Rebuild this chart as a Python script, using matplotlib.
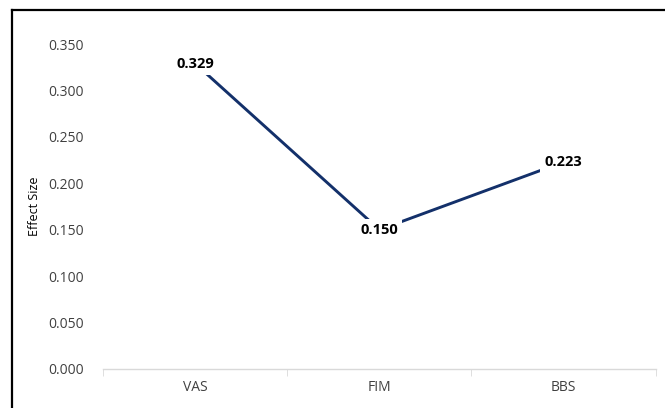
import matplotlib.pyplot as plt
from matplotlib.lines import Line2D

# dati
categories = ["VAS", "FIM", "BBS"]
effect_sizes = [0.329, 0.150, 0.223]
y_ticks = [0.0, 0.05, 0.10, 0.15, 0.20, 0.25, 0.30, 0.35]

plt.rcParams['font.family'] = ['Open Sans', 'DejaVu Sans']

fig = plt.figure(figsize=(6.65, 4.08), dpi=100)
ax = fig.add_axes([0.155, 0.0956, 0.831, 0.7964])

x = list(range(len(categories)))
ax.plot(x, effect_sizes, color="#13306A", linewidth=2.1, solid_capstyle="butt", zorder=2)

# etichette centrate sui punti, con sfondo bianco
for xi, v in zip(x, effect_sizes):
    ax.text(xi, v, f"{v:.3f}", ha="center", va="center", fontsize=10.5,
            fontweight="bold", color="black", zorder=3,
            bbox=dict(facecolor="white", edgecolor="none", pad=3))

ax.set_xlim(-0.5, len(categories) - 0.5)
ax.set_ylim(0, 0.35)
ax.set_yticks(y_ticks)
ax.set_yticklabels([f"{t:.3f}" for t in y_ticks], fontsize=10, color="#404040")
ax.set_xticks(x)
ax.set_xticklabels(categories, fontsize=10, color="#404040")
ax.set_xticks([i - 0.5 for i in range(len(categories) + 1)], minor=True)
ax.tick_params(axis="x", which="major", length=0, pad=8)
ax.tick_params(axis="x", which="minor", length=5, color="#D9D9D9", direction="out")
ax.tick_params(axis="y", length=0, pad=14)

for s in ["top", "right", "left"]:
    ax.spines[s].set_visible(False)
ax.spines["bottom"].set_color("#D9D9D9")
ax.spines["bottom"].set_linewidth(1)

ax.set_ylabel("Effect Size", fontsize=9, color="black", labelpad=5)

# cornice esterna (solo lato sinistro e superiore visibili)
fig.add_artist(Line2D([12 / 665, 12 / 665], [0, 1 - 10 / 408], color="black", linewidth=1.6,
                      transform=fig.transFigure))
fig.add_artist(Line2D([12 / 665, 1], [1 - 10 / 408, 1 - 10 / 408], color="black", linewidth=1.6,
                      transform=fig.transFigure))

fig.savefig("out.png", dpi=100)
